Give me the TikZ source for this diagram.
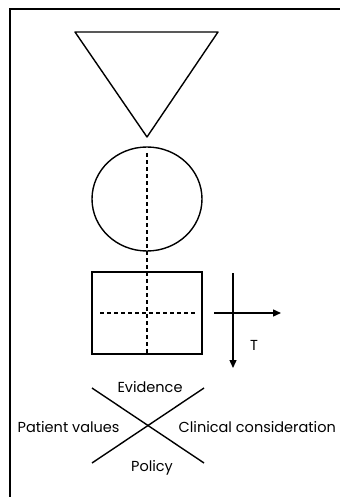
\documentclass[tikz,border=0pt]{standalone}
\usepackage{fontspec}
\setmainfont{Poppins}
\usetikzlibrary{arrows.meta,shapes.geometric}
\begin{document}
\begin{tikzpicture}[x=1pt,y=-1pt,line width=1.4pt,
  dashline/.style={dashed,dash pattern=on 4pt off 3pt,line width=1.3pt},
  lbl/.style={font=\fontsize{14.5}{17}\selectfont,inner sep=0pt}]
\useasboundingbox (0,0) rectangle (340,497);
% frame
\draw (10,497) -- (10,9) -- (340,9);
% triangle
\draw[line join=round] (75,32) coordinate (t1) -- (218,32) coordinate (t2) -- (147,137) coordinate (t3) -- cycle;
% circle
\node[draw,ellipse,minimum width=110pt,minimum height=104pt,inner sep=0pt,line width=1.4pt] (c) at (147,199) {};
% rectangle
\node[draw,minimum width=110pt,minimum height=82pt,inner sep=0pt,line width=1.4pt] (r) at (147,313) {};
% dashed lines
\coordinate (dtop) at (147,153);
\draw[dashline] (dtop) -- (r.south);
\coordinate (hl) at (100,313);
\coordinate (hr) at (197,313);
\draw[dashline] (hl) -- (hr);
% axes
\coordinate (vt) at (233,273);
\coordinate (vb) at (233,368);
\coordinate (hs) at (214,313);
\coordinate (he) at (281,313);
\draw[-{Triangle[length=8pt,width=7pt]}] (vt) -- (vb);
\draw[-{Triangle[length=8pt,width=7pt]}] (hs) -- (he);
\node[lbl] (T) at (254,345) {T};
% cross
\coordinate (x1) at (92,388);
\coordinate (x2) at (204,463);
\coordinate (x3) at (92,463);
\coordinate (x4) at (204,388);
\draw (x1) -- (x2);
\draw (x3) -- (x4);
\node[lbl] (ev) at (150,387) {Evidence};
\node[lbl,anchor=west] (pv) at (17,427) {Patient values};
\node[lbl,anchor=west] (cc) at (178,427) {Clinical consideration};
\node[lbl] (po) at (152,468) {Policy};
\end{tikzpicture}
\end{document}
